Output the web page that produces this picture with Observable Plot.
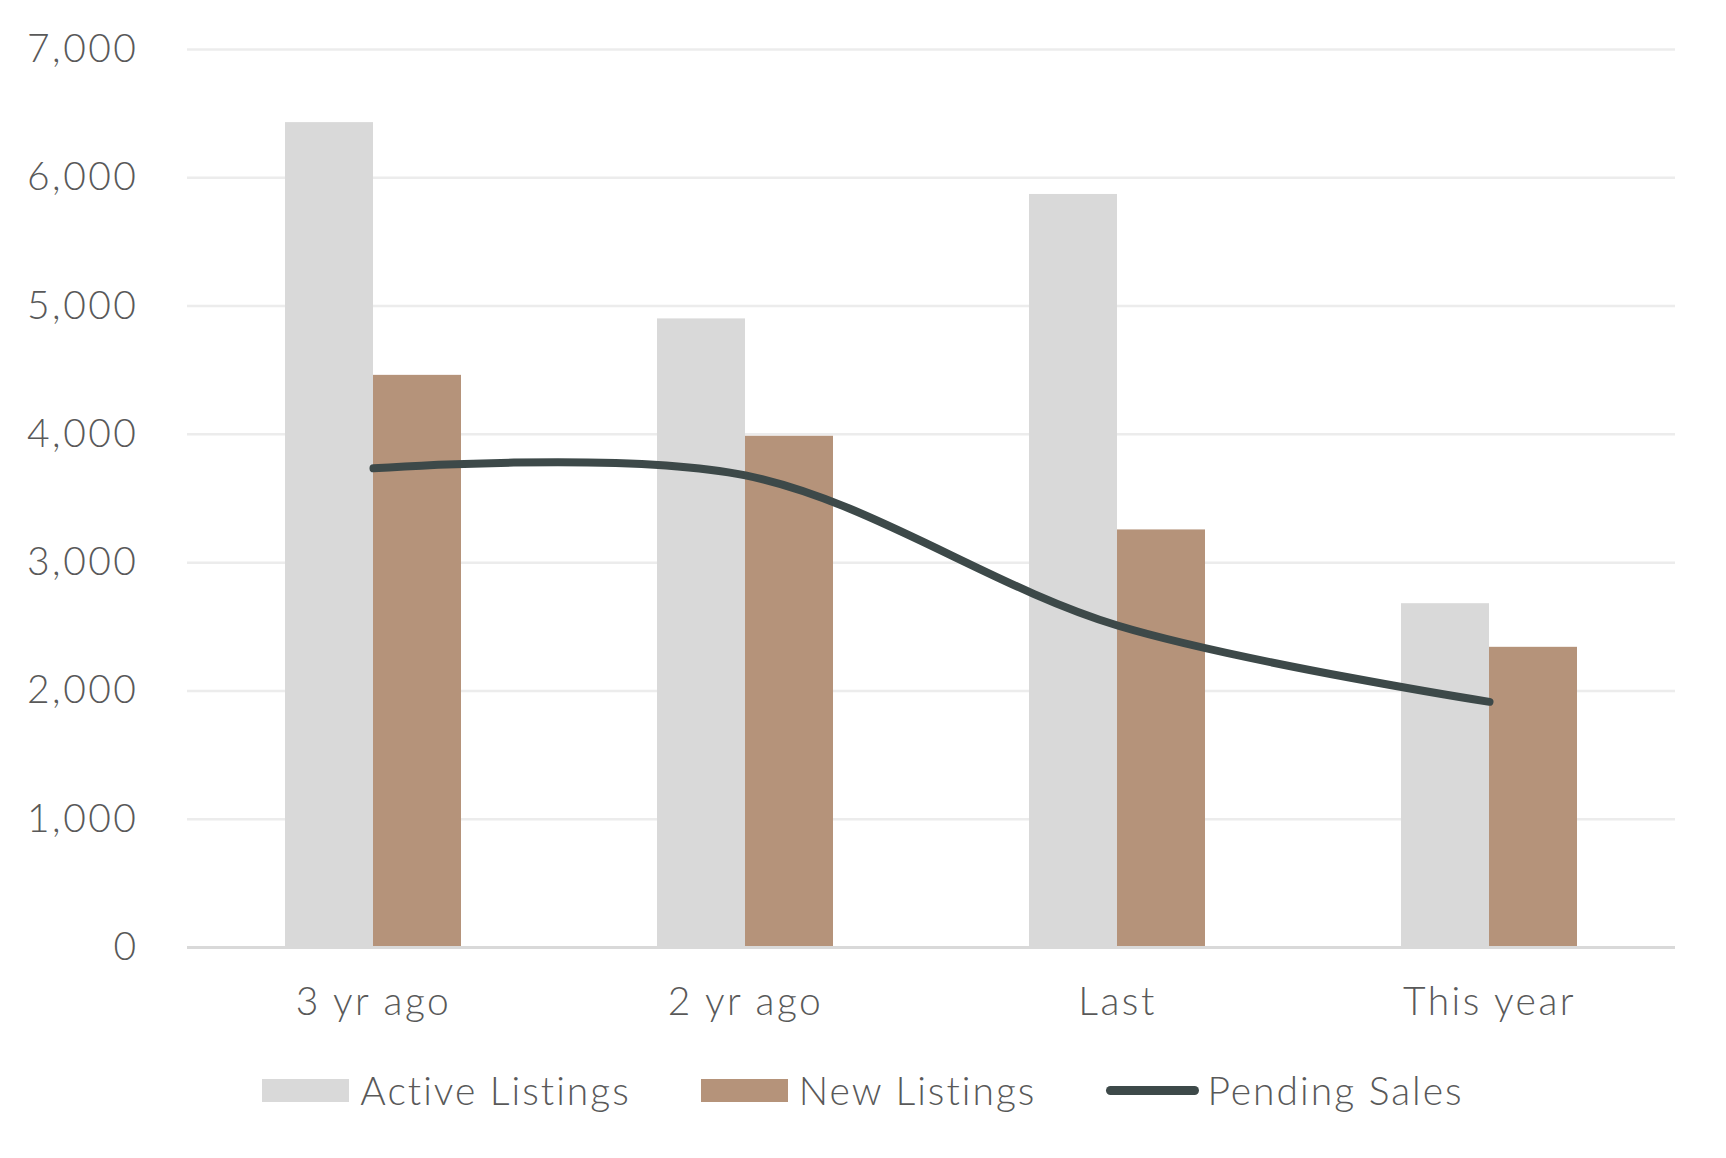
<!DOCTYPE html>
<html>
<head>
<meta charset="utf-8">
<script src="https://cdn.jsdelivr.net/npm/d3@7"></script>
<script src="https://cdn.jsdelivr.net/npm/@observablehq/plot@0.6"></script>
<style>
  html, body { margin: 0; padding: 0; background: #fff; }
  body { width: 1726px; height: 1158px; overflow: hidden; font-family: Lato, "Open Sans", sans-serif; }
  #legend { display: flex; justify-content: center; align-items: center; margin-top: 27px; color: #595959; font-size: 39px; font-weight: 300; letter-spacing: 2px; }
  .item { display: flex; align-items: center; margin: 0 35px; }
  .sw { width: 87px; height: 23px; margin-right: 11px; }
  .ln { width: 93px; height: 9px; border-radius: 5px; margin-right: 8px; }
</style>
</head>
<body>
<div id="chart"></div>
<div id="legend"></div>
<script>
const categories = ["3 yr ago", "2 yr ago", "Last", "This year"];
const activeListings = [6430, 4900, 5870, 2680];
const newListings = [4460, 3985, 3255, 2340];
const pendingSales = [3735, 3680, 2510, 1915];
const yTicks = [0, 1000, 2000, 3000, 4000, 5000, 6000, 7000];
const seriesNames = ["Active Listings", "New Listings", "Pending Sales"];
const colors = ["#d9d9d9", "#b5937a", "#3d4949"];

const rows = categories.map((c, i) => ({category: c, active: activeListings[i], fresh: newListings[i], pending: pendingSales[i]}));

const chart = Plot.plot({
  width: 1726,
  height: 1040,
  marginLeft: 187,
  marginRight: 51,
  marginTop: 49,
  marginBottom: 93,
  style: {fontFamily: "Lato, 'Open Sans', sans-serif", fontSize: "39px", fontWeight: 300, color: "#595959", background: "#fff", letterSpacing: "2.5px"},
  x: {domain: categories, paddingInner: 0.527, paddingOuter: 0.2635, label: null},
  y: {domain: [0, 7000], label: null},
  marks: [
    Plot.ruleY(yTicks.filter(d => d > 0), {stroke: "#ececec", strokeWidth: 2.5}),
    Plot.barY(rows, {x: "category", y: "active", fill: colors[0], insetRight: 88}),
    Plot.barY(rows, {x: "category", y: "fresh", fill: colors[1], insetLeft: 88}),
    Plot.ruleY([0], {stroke: "#d9d9d9", strokeWidth: 3}),
    Plot.lineY(rows, {x: "category", y: "pending", stroke: colors[2], strokeWidth: 8, strokeLinecap: "round", curve: "catmull-rom"}),
    Plot.axisY({ticks: yTicks, tickSize: 0, tickPadding: 49, tickFormat: d3.format(","), fill: "#595959"}),
    Plot.axisX({tickSize: 0, tickPadding: 40, fill: "#595959"})
  ]
});
document.getElementById("chart").appendChild(chart);

const legend = document.getElementById("legend");
seriesNames.forEach((name, i) => {
  const item = document.createElement("div");
  item.className = "item";
  const sw = document.createElement("div");
  sw.className = i < 2 ? "sw" : "ln";
  sw.style.background = colors[i];
  const label = document.createElement("span");
  label.textContent = name;
  item.appendChild(sw);
  item.appendChild(label);
  legend.appendChild(item);
});
</script>
</body>
</html>
